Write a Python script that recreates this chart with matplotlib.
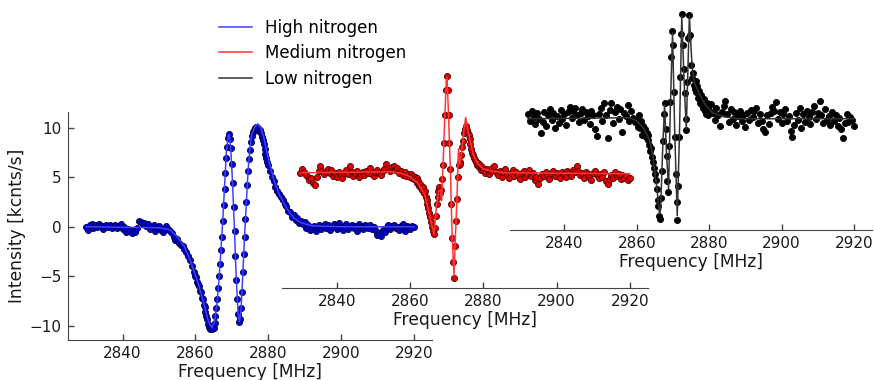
import numpy as np
import matplotlib
matplotlib.use("Agg")
import matplotlib.pyplot as plt

# ---------------- data ----------------
freq_a = np.arange(2830.0, 2860.0, 0.5)    # 60 points
freq_b = np.arange(2860.0, 2880.0, 0.25)   # 80 points
freq_c = np.arange(2880.0, 2920.01, 0.5)   # 81 points

high_a = [0.0, -0.3, 0.2, 0.3, -0.1, 0.2, 0.0, 0.3, 0.1, -0.2,
          0.1, 0.2, 0.0, 0.2, -0.1, 0.1, 0.2, -0.1, 0.1, 0.3,
          -0.2, 0.0, -0.5, -0.2, -0.4, -0.6, -0.3, -0.5, -0.1, 0.6,
          0.5, 0.3, 0.4, 0.1, 0.3, -0.2, 0.0, 0.2, -0.4, -0.1,
          0.1, -0.3, -0.5, -0.2, 0.1, -0.2, -0.4, -0.6, -1.0, -1.3,
          -1.2, -1.6, -1.8, -1.9, -2.3, -2.6, -3.0, -3.4, -4.0, -4.6]
high_b = [-5.0, -5.1, -5.6, -5.8, -6.0, -6.5, -6.6, -7.2,
          -7.3, -7.9, -8.1, -8.6, -9.0, -9.3, -9.8, -10.1,
          -10.3, -10.2, -10.3, -10.0, -10.2, -9.7, -9.0, -8.2,
          -7.3, -6.2, -5.0, -3.8, -2.4, -1.0, 0.6, 2.2,
          3.8, 5.4, 7.0, 8.1, 9.0, 9.4, 8.9, 8.0,
          6.3, 4.4, 2.0, -0.4, -3.0, -5.4, -7.3, -8.8,
          -9.6, -9.3, -8.2, -6.6, -4.6, -2.8, -1.0, 0.8,
          2.5, 4.2, 5.6, 6.8, 7.8, 8.6, 9.2, 9.6,
          9.8, 10.0, 9.9, 10.1, 9.9, 10.0, 9.7, 9.8,
          9.5, 9.1, 8.8, 8.4, 7.9, 7.4, 7.0, 6.5]
high_c = [6.2, 5.6, 5.0, 4.6, 4.0, 3.6, 3.3, 3.0, 2.7, 2.3,
          2.1, 1.6, 1.5, 1.0, 1.2, 0.7, 0.9, 0.4, 0.6, 0.3,
          0.5, -0.1, 0.2, -0.3, -0.2, 0.1, -0.4, 0.0, 0.2, -0.2,
          0.1, 0.3, -0.1, 0.2, -0.3, 0.0, 0.3, 0.1, -0.2, 0.4,
          0.0, -0.3, 0.1, 0.3, -0.2, 0.0, 0.2, -0.1, 0.1, -0.4,
          0.3, 0.0, -0.2, 0.2, 0.1, -0.1, 0.2, -0.2, 0.0, -0.4,
          -0.8, -0.6, -0.9, -0.3, -0.5, 0.0, 0.2, -0.2, 0.1, 0.2,
          -0.1, 0.0, -0.3, 0.1, 0.3, -0.4, 0.1, 0.0, -0.2, 0.1,
          0.0]

med_a = [0.2, 0.6, 0.3, 0.0, -0.2, -0.5, -0.3, -0.8, -1.0, -0.2,
         0.4, 0.9, 0.4, 0.1, 0.3, 0.6, 0.2, 0.5, -0.1, 0.2,
         -0.2, 0.3, 0.0, -0.3, 0.2, 0.5, 0.1, 0.9, 0.3, -0.1,
         0.2, 0.4, -0.2, 0.1, 0.3, 0.0, 0.4, 0.2, 0.7, 0.1,
         -0.1, 0.3, 0.5, 0.2, 0.0, 0.4, 0.6, 1.1, 0.7, 0.4,
         0.8, 0.9, 0.5, 0.7, 0.2, 0.4, 0.0, 0.3, -0.1, 0.1]
med_b = [-0.2, 0.1, -0.3, -0.1, -0.4, -0.2, -0.5, -0.3,
         -0.8, -0.6, -1.1, -0.9, -1.3, -1.5, -1.2, -1.8,
         -1.6, -2.2, -2.6, -3.0, -3.4, -3.9, -4.3, -4.8,
         -5.3, -5.7, -6.0, -5.4, -4.2, -3.0, -2.2, -1.6,
         -1.2, -1.8, -1.5, -0.4, 1.0, 3.2, 6.0, 8.6,
         10.0, 8.6, 6.0, 3.2, 0.6, -3.0, -6.4, -8.8,
         -10.4, -7.2, -4.7, -2.5, -0.2, 1.0, 1.3, 1.1,
         2.0, 2.8, 3.4, 4.2, 4.6, 4.9, 4.5, 4.2,
         4.0, 3.6, 3.1, 2.6, 2.2, 2.0, 1.7, 1.5,
         1.3, 1.0, 1.2, 0.8, 1.0, 0.7, 0.5, 0.8]
med_c = [0.5, 0.2, 0.6, 0.1, 0.4, 0.7, 0.9, 0.3, 0.0, 0.4,
         -0.2, 0.3, 0.6, 0.1, -0.3, 0.2, 0.5, -0.1, 0.3, 0.0,
         -0.4, 0.2, 0.4, -0.2, 0.1, 0.5, -0.1, 0.2, -0.5, -0.2,
         -0.9, -0.3, 0.1, -0.1, 0.3, 0.0, -0.4, 0.2, 0.4, -0.1,
         0.2, 0.0, -0.3, 0.3, 0.1, -0.2, 0.4, 0.2, -0.1, 0.5,
         0.3, 0.9, 0.4, 0.0, 0.2, -0.3, 0.3, 0.1, -0.2, -0.5,
         0.2, 0.4, 0.0, -0.3, 0.1, -0.2, 0.3, -0.6, -0.9, -0.4,
         0.0, -0.3, 0.3, -0.1, 0.1, -0.4, 0.0, -0.3, -0.1, -0.5,
         -0.3]

low_a = [0.3, -0.4, 0.6, 0.0, -0.7, 0.4, -0.2, -1.6, -0.5, 0.5,
         -0.9, 0.2, 0.8, -0.3, 0.4, -1.1, 0.1, -0.6, 0.7, -0.2,
         0.3, -0.8, 0.5, 1.0, -0.1, 0.6, 0.9, 0.2, -0.5, 0.4,
         0.8, -0.3, 0.5, 0.1, -0.7, 0.6, 0.2, -1.2, -1.9, 0.3,
         0.9, -0.4, 1.4, 0.2, -2.1, 0.7, 1.4, -0.6, 0.5, 1.0,
         -0.2, 0.8, -1.5, 0.4, 0.1, 1.2, -0.4, 0.6, -0.1, -0.5]
low_b = [-0.3, -1.0, 0.2, -0.6, -1.1, -0.4, -1.8, -0.9,
         -1.4, -1.2, -2.0, -1.6, -2.4, -1.8, -2.9, -3.5,
         -3.2, -4.1, -4.6, -5.2, -5.8, -6.4, -7.3, -8.4,
         -9.0, -10.0, -10.3, -8.2, -5.5, -2.5, 0.3, 1.4,
         -1.2, -4.0, -6.5, -7.6, -3.0, 1.5, 6.0, 8.7,
         7.3, 2.5, -2.0, -5.8, -8.6, -10.4, -7.0, -2.0,
         4.0, 8.4, 10.4, 7.3, 4.8, 2.4, -0.2, -1.3,
         3.5, 8.0, 10.3, 8.3, 5.2, 3.9, 4.4, 3.2,
         2.8, 3.6, 2.5, 3.1, 1.9, 2.6, 1.4, 2.2,
         1.2, 0.9, 1.8, 0.6, 1.1, 0.3, 1.4, 0.2]
low_c = [0.7, 1.3, 0.4, -0.3, 0.9, 0.2, -0.9, 0.5, 1.1, 1.6,
         0.3, -0.5, 0.8, -0.2, 0.5, -0.8, 0.1, 0.6, -0.4, 0.2,
         -1.0, 0.4, -0.3, 0.7, 0.0, 0.6, 0.9, -0.6, 0.3, -0.4,
         -1.2, -1.5, 0.2, -0.7, 0.4, 1.0, 0.6, 1.5, -0.2, 0.5,
         -0.6, 0.3, 0.8, -0.4, 0.1, -1.4, -2.0, -0.8, 0.4, -0.3,
         0.9, -1.1, 0.3, -0.5, 0.6, 0.0, -0.7, 0.5, 1.1, -0.2,
         0.4, 1.6, 0.2, -0.6, 0.8, -0.3, 0.1, -0.8, 0.5, -0.4,
         0.2, -0.9, -0.1, -1.2, -2.1, -0.6, 0.3, -0.5, 0.0, -0.3,
         -0.9]

# fitted curves (knots)
high_fit_x = [2830, 2850, 2853, 2855, 2857, 2859, 2861, 2862.5, 2863.5, 2864.5,
              2865.3, 2866, 2866.5, 2867, 2867.5, 2868, 2868.5, 2869, 2869.3, 2869.7,
              2870.2, 2870.7, 2871.2, 2871.7, 2872.1, 2872.5, 2873, 2873.5, 2874, 2874.5,
              2875, 2875.5, 2876.3, 2877.2, 2878, 2878.8, 2879.5, 2880.5, 2881.5, 2883,
              2885, 2887, 2889, 2892, 2900, 2920]
high_fit_y = [0.0, -0.1, -0.3, -1.0, -2.0, -3.8, -6.0, -8.0, -9.5, -10.2,
              -9.6, -7.5, -5.2, -2.5, 0.5, 4.0, 7.5, 9.2, 9.3, 8.0,
              4.5, 0.0, -5.0, -8.6, -9.6, -8.6, -5.0, -1.0, 2.5, 5.8,
              8.0, 9.3, 10.1, 10.4, 10.0, 9.0, 7.8, 6.2, 4.8, 3.3,
              1.9, 0.9, 0.4, 0.1, 0.0, 0.0]

med_fit_x = [2830, 2855, 2858, 2860, 2862, 2864, 2865.5, 2866.5, 2867.2, 2867.8,
             2868.3, 2868.6, 2869.0, 2869.5, 2869.9, 2870.1, 2870.5, 2871.0, 2871.5, 2872.0,
             2872.4, 2872.8, 2873.2, 2873.6, 2874.2, 2874.8, 2875.2, 2875.6, 2876.3, 2877.2,
             2878.5, 2880, 2882, 2886, 2920]
med_fit_y = [0.2, 0.3, 0.1, -0.2, -0.8, -2.0, -4.3, -6.0, -3.2, -1.6,
             -1.6, -2.6, 1.0, 6.0, 9.6, 9.8, 6.0, 0.6, -6.4, -10.2,
             -6.0, -2.5, 2.6, 1.1, 2.6, 4.8, 5.8, 4.8, 3.6, 2.1,
             1.1, 0.6, 0.4, 0.2, 0.1]

low_fit_x = [2830, 2858, 2860, 2862, 2863.5, 2864.5, 2865.5, 2866.3, 2866.6, 2867.2,
             2867.7, 2868.2, 2868.8, 2869.3, 2869.9, 2870.5, 2871.2, 2871.8, 2872.45, 2873.1,
             2873.7, 2874.55, 2875.3, 2876, 2877.5, 2879, 2881, 2884, 2888, 2920]
low_fit_y = [-0.2, -0.1, -0.4, -1.2, -2.3, -4.0, -7.0, -9.8, -9.4, -3.0,
             1.2, -3.5, -7.3, 1.0, 8.5, -1.5, -10.0, -2.0, 10.2, 3.5,
             -1.2, 10.2, 5.0, 3.4, 2.2, 1.2, 0.4, 0.0, -0.2, -0.2]

labels = ["High nitrogen", "Medium nitrogen", "Low nitrogen"]
xticks = [2840, 2860, 2880, 2900, 2920]
yticks = [-10, -5, 0, 5, 10]

freq = np.concatenate([freq_a, freq_b, freq_c])
series = [
    (np.concatenate([high_a, high_b, high_c]), high_fit_x, high_fit_y),
    (np.concatenate([med_a, med_b, med_c]), med_fit_x, med_fit_y),
    (np.concatenate([low_a, low_b, low_c]), low_fit_x, low_fit_y),
]
for s in series:
    if len(s[0]) != len(freq) or len(s[1]) != len(s[2]):
        raise ValueError(f"length mismatch {len(s[0])} {len(freq)} {len(s[1])} {len(s[2])}")

# ---------------- styling ----------------
W, H = 875, 380
fig = plt.figure(figsize=(W / 100, H / 100), dpi=100)

# axes boxes in pixels: left, top, width, height
boxes = [(68, 112, 364, 228), (282, 60, 366, 228), (510, 2, 362, 228)]
marker_face = ["#0000d0", "#e00000", "#000000"]
marker_edge = ["#000050", "#500000", "#000000"]
line_col = ["#4040ff", "#ff3535", "#333333"]
spine_col = "#444444"
text_col = "#1a1a1a"

handles = []
for i, ((l, t, w, h), (yd, fx, fy)) in enumerate(zip(boxes, series)):
    ax = fig.add_axes([l / W, (H - t - h) / H, w / W, h / H])
    ax.patch.set_alpha(0)
    ax.plot(freq, yd, "o", ms=4.4, mfc=marker_face[i], mec=marker_edge[i],
            mew=0.6, zorder=2)
    ln, = ax.plot(fx, fy, "-", color=line_col[i], lw=1.1, zorder=3,
                  label=labels[i])
    handles.append(ln)
    ax.set_xlim(2825, 2925)
    ax.set_ylim(-11.45, 11.6)
    ax.set_xticks(xticks)
    for side in ["top", "right"]:
        ax.spines[side].set_visible(False)
    ax.spines["bottom"].set_color(spine_col)
    ax.spines["left"].set_color(spine_col)
    ax.tick_params(direction="in", length=4, width=1, colors=spine_col,
                   labelcolor=text_col, labelsize=11, pad=4.5)
    ax.set_xlabel("Frequency [MHz]", fontsize=12.3, color=text_col, labelpad=1)
    if i == 0:
        ax.set_yticks(yticks)
        ax.set_ylabel("Intensity [kcnts/s]", fontsize=12.3, color=text_col,
                      labelpad=3)
    else:
        ax.spines["left"].set_visible(False)
        ax.set_yticks([])

fig.legend(handles=handles, loc="upper left",
           bbox_to_anchor=(212 / W, 1 - 12 / H), frameon=False,
           fontsize=12, borderaxespad=0, handlelength=2.0,
           labelspacing=0.45)

fig.savefig("out.png", dpi=100)
